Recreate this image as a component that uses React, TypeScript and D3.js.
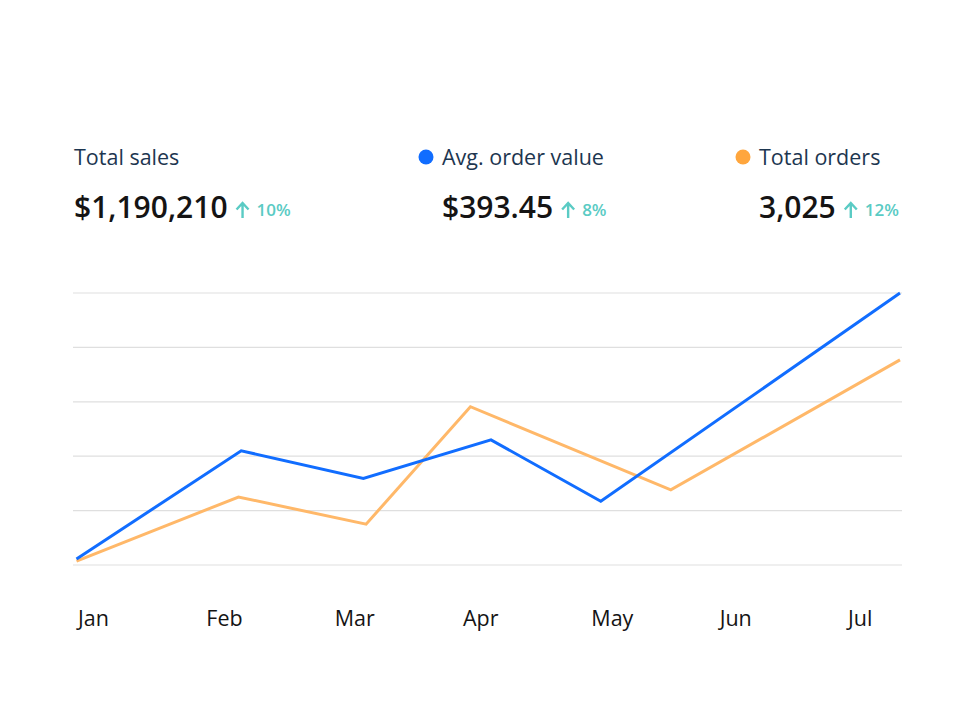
import React, { useRef, useEffect } from "react";
import * as d3 from "d3";

// Datos del gráfico
const months = ["Jan", "Feb", "Mar", "Apr", "May", "Jun", "Jul"];
const gridTicks = [0, 1, 2, 3, 4, 5];

// Avg. order value (azul): posición en meses y valor en unidades de rejilla
const avgOrderX = [0, 1.2, 2.09, 3.02, 3.82, 6];
const avgOrderY = [0.11, 2.1, 1.59, 2.3, 1.17, 5.0];

// Total orders (naranja)
const totalOrdersX = [0, 1.18, 2.11, 2.87, 4.33, 6];
const totalOrdersY = [0.07, 1.25, 0.75, 2.91, 1.38, 3.77];

// Indicadores de cabecera
const statLabels = ["Total sales", "Avg. order value", "Total orders"];
const statValues = ["$1,190,210", "$393.45", "3,025"];
const statChanges = ["10%", "8%", "12%"];
const statDots = [null, "#116DFF", "#FFA63D"];

const FONT = "'Open Sans', sans-serif";

const Chart = ({ width = 980, height = 709 }) => {
  const d3Container = useRef<SVGSVGElement>(null);

  useEffect(() => {
    const container = d3Container.current;
    if (!container) return;

    d3.select(container).selectChildren().remove();
    const svg = d3.select(container).style("font-family", FONT);

    const plot = { left: 73, right: 902 };
    const x = d3.scaleLinear().domain([0, 6]).range([76.5, 900]);
    const y = d3.scaleLinear().domain([0, 5]).range([565, 293]);
    const xLabel = d3.scalePoint().domain(months).range([78, 848]);

    // Cabecera
    const colX = [74, 442, 759];
    statLabels.forEach((label, i) => {
      const g = svg.append("g").attr("transform", `translate(${colX[i]},0)`);
      if (statDots[i]) {
        g.append("circle")
          .attr("cx", -16)
          .attr("cy", 157)
          .attr("r", 7.5)
          .attr("fill", statDots[i]);
      }
      g.append("text")
        .attr("x", 0)
        .attr("y", 165)
        .style("font-size", "21.5px")
        .attr("fill", "#1D3650")
        .text(label);
      const val = g
        .append("text")
        .attr("x", 0)
        .attr("y", 218)
        .style("font-size", "30px")
        .style("font-weight", 600)
        .attr("fill", "#151414")
        .text(statValues[i]);
      const w = (val.node() as SVGTextElement).getComputedTextLength();
      const ax = w + 15;
      g.append("path")
        .attr(
          "d",
          `M${ax},218 L${ax},203.5 M${ax - 6},209.5 L${ax},203 L${ax + 6},209.5`
        )
        .attr("fill", "none")
        .attr("stroke", "#5ACBC4")
        .attr("stroke-width", 2.4);
      g.append("text")
        .attr("x", ax + 14)
        .attr("y", 215.5)
        .style("font-size", "17px")
        .style("font-weight", 600)
        .attr("fill", "#5ACBC4")
        .text(statChanges[i]);
    });

    // Rejilla
    svg
      .append("g")
      .selectAll("line")
      .data(gridTicks)
      .enter()
      .append("line")
      .attr("x1", plot.left)
      .attr("x2", plot.right)
      .attr("y1", (d) => y(d))
      .attr("y2", (d) => y(d))
      .attr("stroke", "#DFDFDF")
      .attr("stroke-width", 1.2);

    // Líneas
    const line = d3
      .line<[number, number]>()
      .x((d) => x(d[0]))
      .y((d) => y(d[1]));

    svg
      .append("path")
      .datum(d3.zip(totalOrdersX, totalOrdersY) as [number, number][])
      .attr("d", line)
      .attr("fill", "none")
      .attr("stroke", "#FFB869")
      .attr("stroke-width", 3)
      .attr("stroke-linejoin", "miter");

    svg
      .append("path")
      .datum(d3.zip(avgOrderX, avgOrderY) as [number, number][])
      .attr("d", line)
      .attr("fill", "none")
      .attr("stroke", "#116DFF")
      .attr("stroke-width", 3)
      .attr("stroke-linejoin", "miter");

    // Etiquetas de meses
    svg
      .append("g")
      .selectAll("text")
      .data(months)
      .enter()
      .append("text")
      .attr("x", (d) => xLabel(d) as number)
      .attr("y", 626)
      .style("font-size", "21.5px")
      .attr("fill", "#151414")
      .text((d) => d);
  }, [width, height]);

  return (
    <svg
      width={width}
      height={height}
      ref={d3Container}
      style={{ position: "absolute", left: 0, top: 0, background: "#fff" }}
    />
  );
};

export default function App() {
  return <Chart />;
}
